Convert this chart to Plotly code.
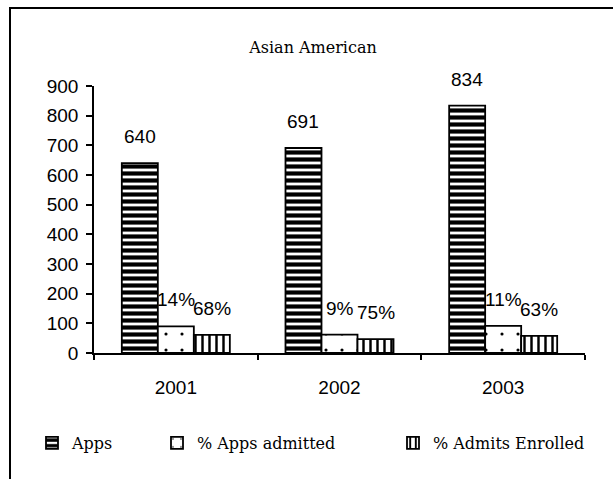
import plotly.graph_objects as go

# Admissions data, Asian American applicants
years = ["2001", "2002", "2003"]
apps = [640, 691, 834]
pct_apps_admitted = [14, 9, 11]
pct_admits_enrolled = [68, 75, 63]

# Bar heights for the percentage series are the underlying counts
admitted = [a * p / 100 for a, p in zip(apps, pct_apps_admitted)]
enrolled = [ad * p / 100 for ad, p in zip(admitted, pct_admits_enrolled)]

NUM_FONT = dict(family="Liberation Sans", size=19, color="black")
SERIF_FONT = dict(family="DejaVu Serif", size=16, color="black")

W, H = 613, 479
ML, MR, MT, MB = 94, 28, 86, 126
PW, PH = W - ML - MR, H - MT - MB

def px_x(px):
    return (px - ML) / PW

def px_y(py):
    return (H - MB - py) / PH

outline = dict(color="black", width=1.8)

fig = go.Figure()
fig.add_trace(go.Bar(
    name="Apps", x=years, y=apps, legend="legend",
    marker=dict(color="black", line=outline,
                pattern=dict(shape="-", fgcolor="black", bgcolor="white",
                             fgopacity=1, size=7, solidity=0.6)),
))
fig.add_trace(go.Bar(
    name="% Apps admitted", x=years, y=admitted, legend="legend2",
    marker=dict(color="black", line=outline,
                pattern=dict(shape=".", fgcolor="black", bgcolor="white",
                             fgopacity=1, size=16, solidity=0.03)),
))
fig.add_trace(go.Bar(
    name="% Admits Enrolled", x=years, y=enrolled, legend="legend3",
    marker=dict(color="black", line=outline,
                pattern=dict(shape="|", fgcolor="black", bgcolor="white",
                             fgopacity=1, size=7, solidity=0.35)),
))

# Value labels above each bar (category index + pixel offset within the group)
bargap = 0.34
bar_px = PW / len(years) * (1 - bargap) / 3
annotations = []
series = [
    (apps, [str(v) for v in apps]),
    (admitted, [f"{p}%" for p in pct_apps_admitted]),
    (enrolled, [f"{p}%" for p in pct_admits_enrolled]),
]
for k, (vals, labels) in enumerate(series):
    for idx, (v, lab) in enumerate(zip(vals, labels)):
        annotations.append(dict(
            x=idx, y=v, text=lab, showarrow=False, font=NUM_FONT,
            xshift=(k - 1) * bar_px, yshift=14, yanchor="bottom",
        ))

# Outer chart frame
shapes = [
    dict(type="rect", xref="paper", yref="paper",
         x0=px_x(10), x1=px_x(640), y0=px_y(520), y1=px_y(8),
         line=dict(color="black", width=2), fillcolor="rgba(0,0,0,0)",
         layer="below"),
]

legend_common = dict(orientation="h", yref="paper", y=px_y(443),
                     yanchor="middle", xanchor="left", font=SERIF_FONT,
                     bgcolor="rgba(0,0,0,0)", itemwidth=30)

fig.update_layout(
    width=W, height=H,
    margin=dict(l=ML, r=MR, t=MT, b=MB),
    paper_bgcolor="white", plot_bgcolor="white",
    barmode="group", bargap=bargap, bargroupgap=0,
    showlegend=True,
    title=dict(text="Asian American", font=dict(family="DejaVu Serif", size=16, color="black"),
               xref="container", x=313 / W, xanchor="center",
               yref="container", y=1 - 47 / H, yanchor="middle"),
    xaxis=dict(type="category", range=[-0.5, len(years) - 0.5],
               showline=True, linecolor="black", linewidth=1.5,
               ticks="outside", tickson="boundaries", ticklen=5,
               tickcolor="black", tickwidth=1.5, tickfont=NUM_FONT,
               ticklabelstandoff=16, showgrid=False, zeroline=False),
    yaxis=dict(range=[0, 900], dtick=100, showline=True, linecolor="black",
               linewidth=1.5, ticks="outside", ticklen=6, tickcolor="black",
               tickwidth=1.5, tickfont=NUM_FONT, ticklabelstandoff=4,
               showgrid=False, zeroline=False),
    legend=dict(x=px_x(32), **legend_common),
    legend2=dict(x=px_x(157), **legend_common),
    legend3=dict(x=px_x(393), **legend_common),
    annotations=annotations,
    shapes=shapes,
)

fig.write_html("out.html")
